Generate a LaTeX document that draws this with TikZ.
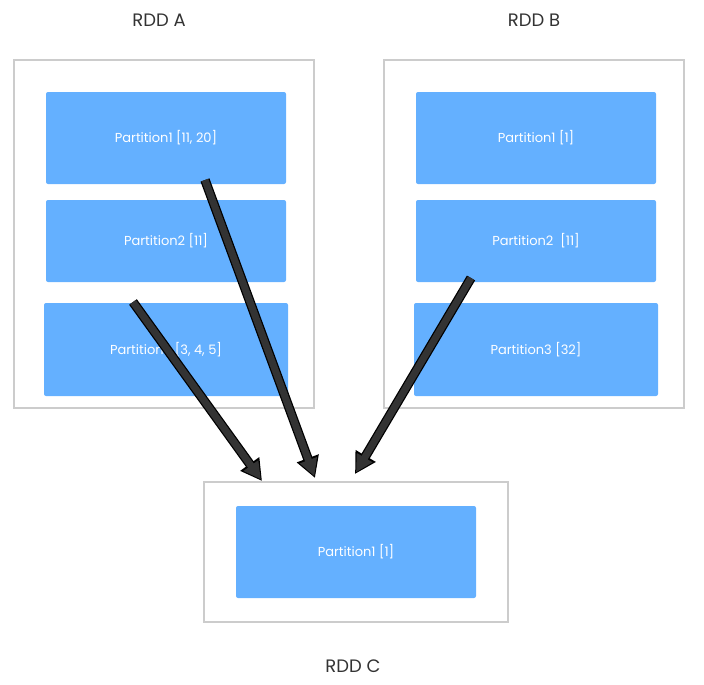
\documentclass[tikz,border=0pt]{standalone}
\usepackage{fontspec}
\setmainfont{Poppins}
\usetikzlibrary{arrows.meta}
\definecolor{partblue}{HTML}{64B0FF}
\definecolor{boxgray}{HTML}{CCCCCC}
\definecolor{labelgray}{HTML}{333333}
\definecolor{shaftgray}{HTML}{333333}

\tikzset{
  rdd/.style={draw=boxgray, line width=1.5pt, rectangle, minimum width=300pt, minimum height=348pt},
  part/.style={fill=partblue, rectangle, rounded corners=2pt, text=white, font=\fontsize{13}{15}\selectfont, minimum width=240pt, minimum height=92pt},
  rddlabel/.style={text=labelgray, font=\fontsize{18}{21}\selectfont},
  dep/.style={shaftgray, line width=7pt, -{Triangle[length=17pt,width=17pt]}, shorten >=2pt,
    preaction={draw=black, line width=9.5pt, -{Triangle[length=21pt,width=22pt]}, shorten >=0pt}}
}

\begin{document}
\begin{tikzpicture}[x=1pt, y=-1pt]
		\useasboundingbox (0,0) rectangle (704,685);

		% RDD A
		\node[rddlabel] (labA) at (159,20) {RDD A};
		\node[rdd] (rddA) at (164,234) {};
		\node[part] (a1) at (166,138) {Partition1 [11, 20]};
		\node[part, minimum height=82pt] (a2) at (166,241) {Partition2 [11]};
		\node[part, minimum width=244pt, minimum height=93pt] (a3) at (166,349.5) {Partition3 [3, 4, 5]};

		% RDD B
		\node[rddlabel] (labB) at (534,20) {RDD B};
		\node[rdd] (rddB) at (534,234) {};
		\node[part] (b1) at (536,138) {Partition1 [1]};
		\node[part, minimum height=82pt] (b2) at (536,241) {Partition2~~[11]};
		\node[part, minimum width=244pt, minimum height=93pt] (b3) at (536,349.5) {Partition3 [32]};

		% RDD C
		\node[rdd, minimum width=304pt, minimum height=140pt] (rddC) at (356,552) {};
		\node[part] (c1) at (356,552) {Partition1 [1]};
		\node[rddlabel] (labC) at (353,666) {RDD C};

		% Dependencies
		\coordinate (fromA3) at (133,302);
		\coordinate (fromA1) at (205,180);
		\coordinate (fromB2) at (471,278);
		\coordinate (toC1) at (262,481);
		\coordinate (toC2) at (315,478);
		\coordinate (toC3) at (355,474);
		\draw[dep] (fromA3) -- (toC1);
		\draw[dep] (fromA1) -- (toC2);
		\draw[dep] (fromB2) -- (toC3);
	\end{tikzpicture}
\end{document}
